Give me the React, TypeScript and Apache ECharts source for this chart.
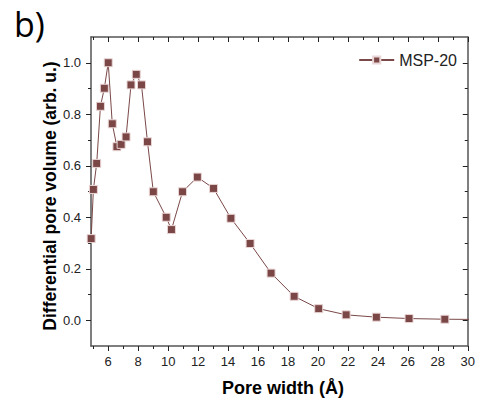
import React, { useEffect, useRef } from "react";
import * as echarts from "echarts";

const poreWidth = [4.86, 5.01, 5.23, 5.48, 5.74, 6.0, 6.27, 6.58, 6.86, 7.19, 7.52, 7.87, 8.22, 8.62, 9.01, 9.87, 10.22, 10.96, 11.95, 13.03, 14.19, 15.47, 16.87, 18.41, 20.05, 21.88, 23.9, 26.08, 28.47, 31.0];
const poreVolume = [0.317, 0.508, 0.609, 0.831, 0.901, 1.0, 0.763, 0.674, 0.683, 0.712, 0.914, 0.955, 0.914, 0.693, 0.499, 0.4, 0.352, 0.499, 0.556, 0.512, 0.396, 0.298, 0.183, 0.093, 0.045, 0.021, 0.012, 0.0066, 0.004, 0.003];

const xMajorTicks = [6, 8, 10, 12, 14, 16, 18, 20, 22, 24, 26, 28, 30];
const xMinorTicks = [5, 7, 9, 11, 13, 15, 17, 19, 21, 23, 25, 27, 29];
const yMajorTicks = [0, 0.2, 0.4, 0.6, 0.8, 1.0];
const yMinorTicks = [0.1, 0.3, 0.5, 0.7, 0.9];

const seriesName = "MSP-20";
const xTitle = "Pore width (Å)";
const yTitle = "Differential pore volume (arb. u.)";
const panelLabel = "b)";

const X_MIN = 4.85;
const X_MAX = 30;
const Y_MIN = -0.1;
const Y_MAX = 1.1;

const axisColor = "#555";
const tickColor = "#222";
const FONT = "'Liberation Sans', Arial, sans-serif";

export default function App() {
  const ref = useRef<HTMLDivElement>(null);
  useEffect(() => {
    if (!ref.current) return;
    const chart = echarts.init(ref.current, undefined, { renderer: "svg" });
    const mkX = (position: string, ticks: number[], len: number, inside: boolean, showLine: boolean, showLabel: boolean) => ({
      type: "value",
      position,
      min: X_MIN,
      max: X_MAX,
      axisLine: { show: showLine, onZero: false, lineStyle: { color: axisColor, width: 1.5 } },
      axisTick: { show: true, inside, length: len, customValues: ticks, lineStyle: { color: tickColor, width: 1 } },
      axisLabel: showLabel
        ? { show: true, customValues: ticks, fontSize: 13, color: "#222", fontFamily: FONT, margin: 9 }
        : { show: false },
      splitLine: { show: false },
    });
    const mkY = (position: string, ticks: number[], len: number, inside: boolean, showLine: boolean, showLabel: boolean) => ({
      type: "value",
      position,
      min: Y_MIN,
      max: Y_MAX,
      axisLine: { show: showLine, onZero: false, lineStyle: { color: axisColor, width: 1.5 } },
      axisTick: { show: true, inside, length: len, customValues: ticks, lineStyle: { color: tickColor, width: 1 } },
      axisLabel: showLabel
        ? {
            show: true,
            customValues: ticks,
            fontSize: 13,
            color: "#222",
            fontFamily: FONT,
            margin: 10,
            formatter: (v: number) => v.toFixed(1),
          }
        : { show: false },
      splitLine: { show: false },
    });
    chart.setOption({
      animation: false,
      backgroundColor: "#fff",
      grid: { left: 91, right: 4, top: 37, bottom: 56, containLabel: false },
      legend: {
        data: [seriesName],
        right: 16,
        top: 47,
        itemWidth: 35,
        itemHeight: 9,
        itemGap: 5,
        textStyle: { fontSize: 16, color: "#222", fontFamily: FONT },
      },
      xAxis: [
        mkX("bottom", xMajorTicks, 5, false, true, true),
        mkX("bottom", xMinorTicks, 3, false, false, false),
        mkX("top", xMajorTicks, 5, true, true, false),
        mkX("top", xMinorTicks, 3, true, false, false),
      ],
      yAxis: [
        mkY("left", yMajorTicks, 5, false, true, true),
        mkY("left", yMinorTicks, 3, false, false, false),
        mkY("right", yMajorTicks, 5, true, true, false),
        mkY("right", yMinorTicks, 3, true, false, false),
      ],
      series: [
        {
          name: seriesName,
          type: "line",
          xAxisIndex: 0,
          yAxisIndex: 0,
          data: poreWidth.map((x, i) => [x, poreVolume[i]]),
          symbol: "rect",
          symbolSize: 8,
          clip: true,
          lineStyle: { color: "#7a4848", width: 1 },
          itemStyle: { color: "#7b4646", borderColor: "#ead6d6", borderWidth: 1 },
        },
      ],
      graphic: [
        {
          type: "text",
          x: 14,
          y: 24,
          style: {
            text: panelLabel,
            x: 0,
            y: 0,
            textVerticalAlign: "middle",
            font: "34px 'Open Sans', 'Noto Sans', sans-serif",
            fill: "#000",
          },
        },
        {
          type: "text",
          x: 50,
          y: 196,
          rotation: Math.PI / 2,
          style: {
            text: yTitle,
            x: 0,
            y: 0,
            textAlign: "center",
            textVerticalAlign: "middle",
            font: "bold 17.5px 'Liberation Sans', Arial, sans-serif",
            fill: "#000",
          },
        },
        {
          type: "text",
          x: 283,
          y: 388,
          style: {
            text: xTitle,
            x: 0,
            y: 0,
            textAlign: "center",
            textVerticalAlign: "middle",
            font: "bold 18px 'Liberation Sans', Arial, sans-serif",
            fill: "#000",
          },
        },
      ],
    });
    return () => chart.dispose();
  }, []);
  return <div ref={ref} style={{ position: "fixed", left: 0, top: 0, width: 478, height: 402 }} />;
}
